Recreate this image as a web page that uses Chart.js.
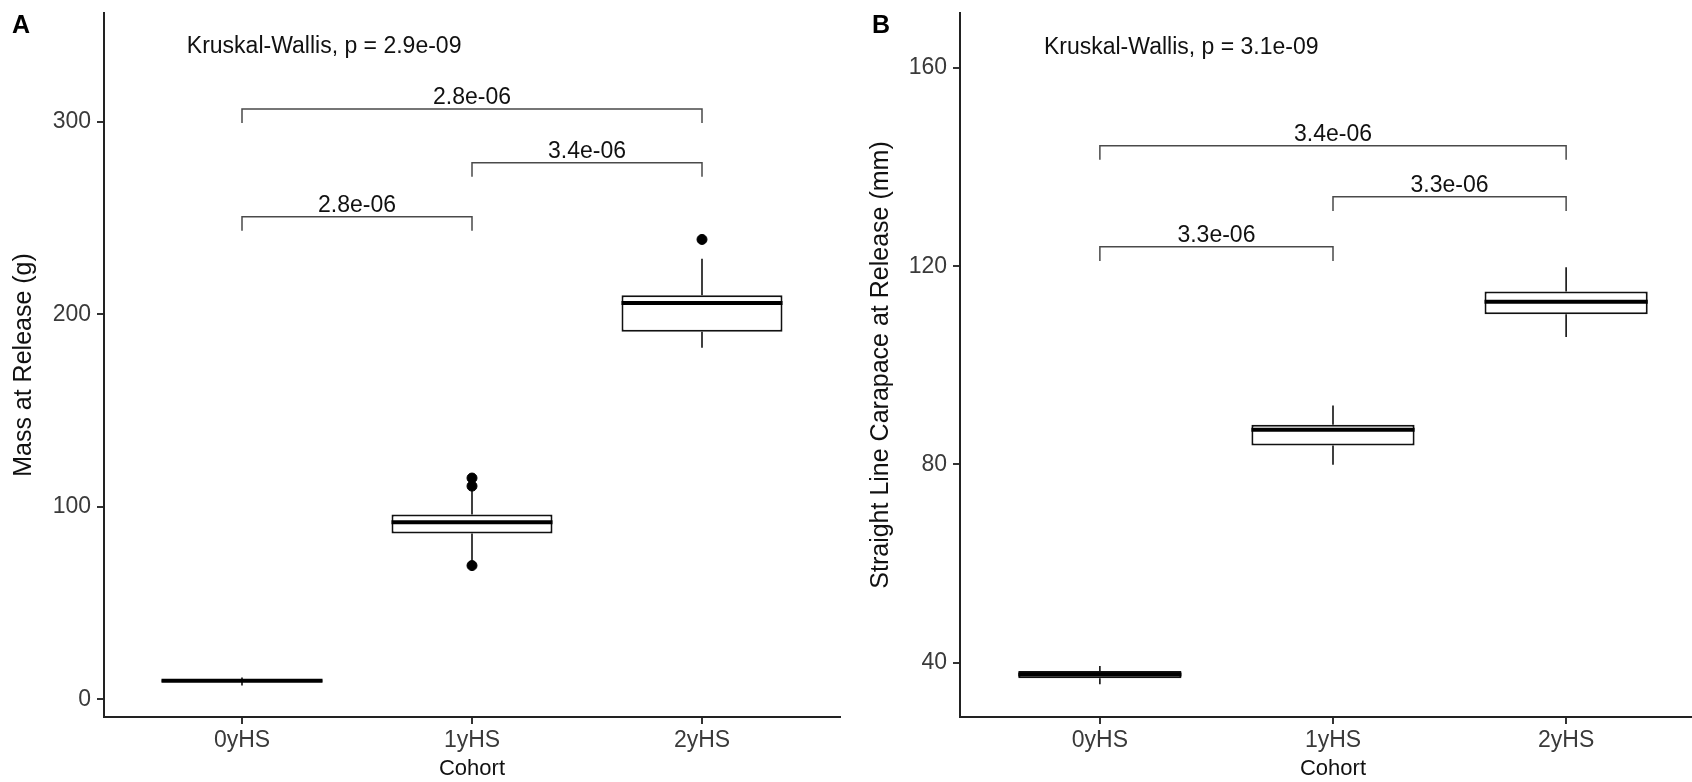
<!DOCTYPE html>
<html><head><meta charset="utf-8">
<script src="https://cdn.jsdelivr.net/npm/chart.js@4.4.1/dist/chart.umd.min.js"></script>
<style>
html,body{margin:0;padding:0;background:#fff;overflow:hidden;width:1692px;height:782px;}
#wrapA{position:absolute;left:0;top:0;width:846px;height:782px;}
#wrapB{position:absolute;left:846px;top:0;width:860px;height:782px;}
canvas{display:block;}
</style></head><body>
<div id="wrapA"><canvas id="chartA" width="846" height="782"></canvas></div>
<div id="wrapB"><canvas id="chartB" width="860" height="782"></canvas></div>
<script>
const categories = ['0yHS', '1yHS', '2yHS'];
const tickPositions = [0, 1, 2];

// Panel A – Mass at Release (g)
const massLow      = [7.2, 72.0, 182.7];
const massQ1       = [9.0, 86.2, 191.0];
const massMedian   = [9.7, 92.0, 206.0];
const massQ3       = [10.3, 96.0, 210.0];
const massHigh     = [11.3, 109.0, 229.0];
const massOutliers = [[], [69.5, 110.8, 115.0], [239.0]];
const massTicks    = [0, 100, 200, 300];
const massPairs    = [[0, 2], [1, 2], [0, 1]];
const massPairY    = [306.8, 278.9, 250.8];
const massPairP    = ['2.8e-06', '3.4e-06', '2.8e-06'];
const massKW       = 'Kruskal-Wallis, p = 2.9e-09';

// Panel B – Straight Line Carapace at Release (mm)
const sclLow      = [35.6, 79.9, 105.7];
const sclQ1       = [36.8, 83.8, 110.3];
const sclMedian   = [37.6, 87.0, 112.8];
const sclQ3       = [38.3, 88.0, 114.9];
const sclHigh     = [39.3, 91.9, 119.8];
const sclOutliers = [[], [], []];
const sclTicks    = [40, 80, 120, 160];
const sclPairs    = [[0, 2], [1, 2], [0, 1]];
const sclPairY    = [144.3, 134.0, 123.9];
const sclPairP    = ['3.4e-06', '3.3e-06', '3.3e-06'];
const sclKW       = 'Kruskal-Wallis, p = 3.1e-09';

const FONT = "'Liberation Sans', Arial, Helvetica, sans-serif";
Chart.defaults.font.family = FONT;
const BOX_W = 0.7;

function segments(list) {
  const out = [];
  list.forEach(s => {
    s.forEach(p => out.push({x: p[0], y: p[1]}));
    out.push({x: s[s.length - 1][0], y: null});
  });
  return out;
}

const annot = {
  id: 'annot',
  afterDatasetsDraw(chart, args, o) {
    const {ctx} = chart;
    const x = chart.scales.x, y = chart.scales.y;
    ctx.save();
    ctx.fillStyle = '#111';
    ctx.font = `${o.textSize}px ${FONT}`;
    ctx.textAlign = 'left';
    ctx.textBaseline = 'alphabetic';
    ctx.fillText(o.kw, x.getPixelForValue(o.kwX), y.getPixelForValue(o.kwY));
    ctx.textAlign = 'center';
    o.pairs.forEach((p, i) => {
      ctx.fillText(o.pairP[i], x.getPixelForValue((p[0] + p[1]) / 2), y.getPixelForValue(o.pairY[i]) - 5);
    });
    ctx.textAlign = 'left';
    ctx.fillStyle = '#000';
    ctx.font = `bold 25px ${FONT}`;
    ctx.fillText(o.tag, o.tagX, o.tagY);
    ctx.restore();
  }
};

function build(id, d, L) {
  const tipLen = 0.02 * (L.yMax - L.yMin);
  const half = BOX_W / 2;
  const whiskers = segments(tickPositions.flatMap(i => [
    [[i, d.low[i]], [i, d.q1[i]]],
    [[i, d.q3[i]], [i, d.high[i]]]
  ]));
  const medians = segments(tickPositions.map(i => [[i - half, d.median[i]], [i + half, d.median[i]]]));
  const brackets = segments(d.pairs.map((p, k) => [
    [p[0], d.pairY[k] - tipLen], [p[0], d.pairY[k]], [p[1], d.pairY[k]], [p[1], d.pairY[k] - tipLen]
  ]));
  const outliers = tickPositions.flatMap(i => d.outliers[i].map(v => ({x: i, y: v})));

  return new Chart(document.getElementById(id), {
    type: 'bar',
    data: {
      datasets: [
        {type: 'line', data: whiskers, borderColor: '#111', borderWidth: 1.6, pointRadius: 0, spanGaps: false, order: 5},
        {type: 'bar', data: tickPositions.map(i => ({x: i, y: [d.q1[i], d.q3[i]]})),
          backgroundColor: '#fff', borderColor: '#111', borderWidth: 2, borderSkipped: false,
          categoryPercentage: BOX_W, barPercentage: 1, order: 4},
        {type: 'line', data: medians, borderColor: '#000', borderWidth: 4, pointRadius: 0, spanGaps: false, order: 3},
        {type: 'scatter', data: outliers, backgroundColor: '#000', borderColor: '#000', pointRadius: 5, order: 2},
        {type: 'line', data: brackets, borderColor: '#4a4a4a', borderWidth: 1.5, pointRadius: 0, spanGaps: false, order: 1}
      ]
    },
    options: {
      responsive: false,
      animation: false,
      events: [],
      layout: {padding: {top: 13, left: 0, right: 0, bottom: 0}},
      plugins: {
        legend: {display: false},
        tooltip: {enabled: false},
        annot: {kw: d.kw, kwX: -0.24, kwY: L.kwY, textSize: 23, pairs: d.pairs, pairY: d.pairY, pairP: d.pairP,
                tag: L.tag, tagX: L.tagX, tagY: 33}
      },
      scales: {
        x: {
          type: 'linear', min: -0.6, max: 2.6, offset: false,
          afterBuildTicks: s => { s.ticks = tickPositions.map(v => ({value: v})); },
          afterFit: s => { s.height = 65; s.paddingLeft = 0; s.paddingRight = 0; },
          ticks: {callback: v => categories[v], font: {size: 23}, color: '#3a3a3a', padding: 3, maxRotation: 0, autoSkip: false},
          grid: {display: true, drawOnChartArea: false, drawTicks: true, tickLength: 7, color: '#333', lineWidth: 2, offset: false},
          border: {display: true, color: '#222', width: 2},
          title: {display: true, text: 'Cohort', font: {size: 22}, color: '#111', padding: {top: 0, bottom: 0}}
        },
        y: {
          type: 'linear', min: L.yMin, max: L.yMax,
          afterBuildTicks: s => { s.ticks = d.ticks.map(v => ({value: v})); },
          afterFit: s => { s.width = L.yWidth; s.paddingTop = 0; s.paddingBottom = 0; },
          ticks: {font: {size: 23}, color: '#3a3a3a', padding: 6},
          grid: {display: true, drawOnChartArea: false, drawTicks: true, tickLength: 7, color: '#333', lineWidth: 2},
          border: {display: true, color: '#222', width: 2},
          title: {display: true, text: L.yTitle, font: {size: 25}, color: '#111', padding: {top: L.titlePad, bottom: 0}}
        }
      }
    },
    plugins: [annot]
  });
}

build('chartA', {
  low: massLow, q1: massQ1, median: massMedian, q3: massQ3, high: massHigh, outliers: massOutliers,
  ticks: massTicks, pairs: massPairs, pairY: massPairY, pairP: massPairP, kw: massKW
}, {yMin: -9.2, yMax: 356.7, yWidth: 104, kwY: 335.7, tag: 'A', tagX: 12, titlePad: 9, yTitle: 'Mass at Release (g)'});

build('chartB', {
  low: sclLow, q1: sclQ1, median: sclMedian, q3: sclQ3, high: sclHigh, outliers: sclOutliers,
  ticks: sclTicks, pairs: sclPairs, pairY: sclPairY, pairP: sclPairP, kw: sclKW
}, {yMin: 29.0, yMax: 171.1, yWidth: 114, kwY: 162.9, tag: 'B', tagX: 26, titlePad: 20, yTitle: 'Straight Line Carapace at Release (mm)'});
</script>
</body></html>
